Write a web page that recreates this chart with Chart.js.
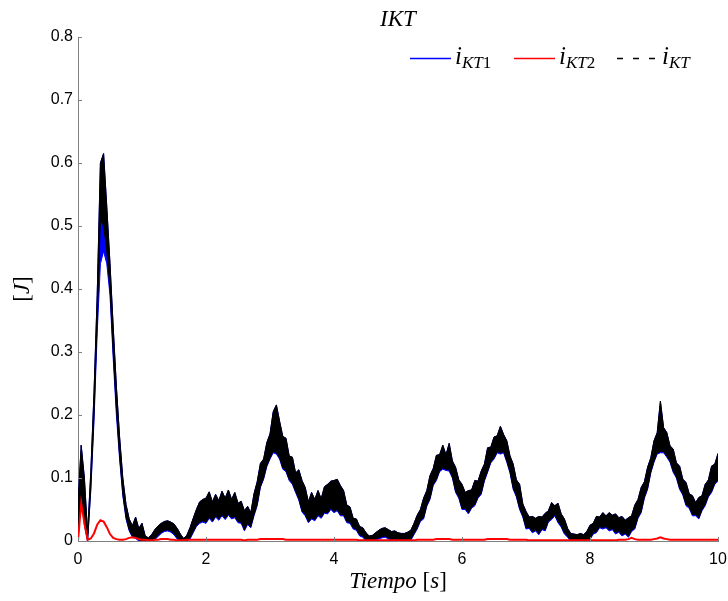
<!DOCTYPE html>
<html>
<head>
<meta charset="utf-8">
<script src="https://cdn.jsdelivr.net/npm/chart.js@4.4.1/dist/chart.umd.min.js"></script>
<style>
  html, body { margin: 0; padding: 0; background: #fff; }
  #caja { width: 728px; height: 601px; }
</style>
</head>
<body>
<div id="caja"><canvas id="grafica-ikt" width="728" height="601"></canvas></div>
<script>
// Muestras cada 0.05 s, de 0 a 10 s
const tiempo = Array.from({ length: 201 }, (_, i) => +(i * 0.05).toFixed(2));

// i_KT: borde superior de la banda de ruido
const iktSup = [
  0.06, 0.152, 0.1, 0.012, 0.11, 0.235, 0.39, 0.6, 0.615, 0.53,
  0.44, 0.34, 0.245, 0.165, 0.1, 0.058, 0.035, 0.024, 0.038, 0.02,
  0.028, 0.008, 0.005, 0.01, 0.018, 0.024, 0.028, 0.031, 0.032, 0.03,
  0.027, 0.02, 0.011, 0.004, 0.009, 0.021, 0.036, 0.05, 0.062, 0.066,
  0.068, 0.078, 0.062, 0.074, 0.064, 0.079, 0.068, 0.081, 0.066, 0.077,
  0.06, 0.063, 0.048, 0.055, 0.045, 0.075, 0.094, 0.123, 0.13, 0.156,
  0.17, 0.205, 0.216, 0.19, 0.166, 0.163, 0.135, 0.133, 0.108, 0.113,
  0.096, 0.085, 0.062, 0.077, 0.066, 0.08, 0.067, 0.086, 0.09, 0.095,
  0.096, 0.098, 0.088, 0.08, 0.057, 0.054, 0.036, 0.035, 0.023, 0.021,
  0.013, 0.008, 0.009, 0.013, 0.017, 0.02, 0.021, 0.018, 0.015, 0.016,
  0.013, 0.012, 0.012, 0.014, 0.017, 0.028, 0.041, 0.05, 0.068, 0.08,
  0.104, 0.115, 0.136, 0.137, 0.152, 0.137, 0.155, 0.127, 0.117, 0.097,
  0.09, 0.077, 0.08, 0.081, 0.096, 0.095, 0.111, 0.122, 0.148, 0.149,
  0.165, 0.167, 0.182, 0.169, 0.159, 0.135, 0.122, 0.097, 0.09, 0.059,
  0.047, 0.038, 0.039, 0.036, 0.039, 0.038, 0.044, 0.048, 0.061, 0.056,
  0.06, 0.043, 0.035, 0.02, 0.012, 0.011, 0.01, 0.012, 0.01, 0.015,
  0.025, 0.028, 0.039, 0.038, 0.045, 0.04, 0.045, 0.041, 0.043, 0.037,
  0.039, 0.033, 0.037, 0.04, 0.057, 0.066, 0.085, 0.094, 0.117, 0.132,
  0.159, 0.172, 0.222, 0.18, 0.172, 0.151, 0.146, 0.124, 0.119, 0.098,
  0.093, 0.075, 0.072, 0.061, 0.069, 0.072, 0.09, 0.097, 0.119, 0.122, 0.139
];

// i_KT: borde inferior de la banda
const iktInf = [
  0, 0.08, 0.03, 0, 0.085, 0.2, 0.35, 0.51, 0.5, 0.46,
  0.4, 0.3, 0.21, 0.135, 0.075, 0.038, 0.018, 0.008, 0.006, 0.002,
  0, 0, 0, 0, 0.004, 0.009, 0.014, 0.017, 0.018, 0.016,
  0.012, 0.005, 0, 0, 0, 0.005, 0.015, 0.025, 0.03, 0.032,
  0.03, 0.038, 0.032, 0.04, 0.035, 0.042, 0.036, 0.043, 0.037, 0.039,
  0.031, 0.03, 0.018, 0.028, 0.023, 0.042, 0.058, 0.087, 0.1, 0.12,
  0.132, 0.142, 0.14, 0.132, 0.116, 0.112, 0.098, 0.092, 0.079, 0.067,
  0.048, 0.042, 0.031, 0.037, 0.034, 0.042, 0.038, 0.046, 0.045, 0.052,
  0.047, 0.05, 0.042, 0.042, 0.031, 0.03, 0.021, 0.019, 0.01, 0.008,
  0.002, 0, 0, 0.003, 0.005, 0.007, 0.008, 0.005, 0, 0.004,
  0, 0, 0, 0.001, 0.003, 0.012, 0.021, 0.033, 0.037, 0.057,
  0.068, 0.09, 0.098, 0.112, 0.116, 0.114, 0.113, 0.102, 0.079, 0.07,
  0.052, 0.052, 0.045, 0.054, 0.058, 0.07, 0.076, 0.097, 0.111, 0.126,
  0.132, 0.142, 0.14, 0.142, 0.127, 0.11, 0.084, 0.072, 0.052, 0.04,
  0.021, 0.022, 0.015, 0.018, 0.012, 0.02, 0.018, 0.032, 0.036, 0.042,
  0.031, 0.024, 0.013, 0.008, 0, 0, 0, 0, 0, 0.002,
  0.004, 0.013, 0.015, 0.023, 0.021, 0.023, 0.018, 0.02, 0.013, 0.016,
  0.01, 0.013, 0.008, 0.017, 0.021, 0.038, 0.047, 0.07, 0.084, 0.11,
  0.127, 0.14, 0.142, 0.142, 0.135, 0.127, 0.111, 0.102, 0.084, 0.075,
  0.058, 0.054, 0.042, 0.042, 0.037, 0.05, 0.058, 0.072, 0.079, 0.092, 0.097
];

// i_KT1: borde inferior (el superior queda bajo i_KT)
const ikt1Inf = [
  0, 0.075, 0.025, 0, 0.08, 0.19, 0.33, 0.44, 0.46, 0.44,
  0.39, 0.29, 0.2, 0.13, 0.072, 0.035, 0.016, 0.006, 0.004, 0,
  0, 0, 0, 0, 0.002, 0.007, 0.012, 0.015, 0.016, 0.014,
  0.01, 0.003, 0, 0, 0, 0.003, 0.013, 0.023, 0.028, 0.03,
  0.028, 0.036, 0.03, 0.038, 0.033, 0.04, 0.034, 0.041, 0.035, 0.037,
  0.029, 0.028, 0.016, 0.026, 0.021, 0.04, 0.056, 0.085, 0.098, 0.118,
  0.13, 0.14, 0.138, 0.13, 0.114, 0.11, 0.096, 0.09, 0.077, 0.065,
  0.046, 0.04, 0.029, 0.035, 0.032, 0.04, 0.036, 0.044, 0.043, 0.05,
  0.045, 0.048, 0.04, 0.04, 0.029, 0.028, 0.019, 0.017, 0.008, 0.006,
  0, 0, 0, 0.001, 0.003, 0.005, 0.006, 0.003, 0, 0.002,
  0, 0, 0, 0, 0.001, 0.01, 0.019, 0.031, 0.035, 0.055,
  0.066, 0.088, 0.096, 0.11, 0.114, 0.112, 0.111, 0.1, 0.077, 0.068,
  0.05, 0.05, 0.043, 0.052, 0.056, 0.068, 0.074, 0.095, 0.109, 0.124,
  0.13, 0.14, 0.138, 0.14, 0.125, 0.108, 0.082, 0.07, 0.05, 0.038,
  0.019, 0.02, 0.013, 0.016, 0.01, 0.018, 0.016, 0.03, 0.034, 0.04,
  0.029, 0.022, 0.011, 0.006, 0, 0, 0, 0, 0, 0,
  0.002, 0.011, 0.013, 0.021, 0.019, 0.021, 0.016, 0.018, 0.011, 0.014,
  0.008, 0.011, 0.006, 0.015, 0.019, 0.036, 0.045, 0.068, 0.082, 0.108,
  0.125, 0.138, 0.14, 0.14, 0.133, 0.125, 0.109, 0.1, 0.082, 0.073,
  0.056, 0.052, 0.04, 0.04, 0.035, 0.048, 0.056, 0.07, 0.077, 0.09, 0.095
];

// i_KT2
const ikt2 = [
  0, 0.06, 0.028, 0.002, 0.004, 0.012, 0.026, 0.033, 0.031, 0.022,
  0.011, 0.005, 0.003, 0.002, 0.002, 0.003, 0.005, 0.006, 0.005, 0.003,
  0.002, 0.002, 0.001, 0.001, 0.002, 0.002, 0.003, 0.003, 0.003, 0.002,
  0.002, 0.001, 0.001, 0.001, 0.002, 0.002, 0.002, 0.002, 0.002, 0.002,
  0.002, 0.002, 0.002, 0.002, 0.002, 0.002, 0.002, 0.002, 0.002, 0.002,
  0.002, 0.002, 0.001, 0.002, 0.002, 0.002, 0.002, 0.003, 0.003, 0.003,
  0.003, 0.003, 0.003, 0.003, 0.003, 0.002, 0.002, 0.002, 0.002, 0.002,
  0.002, 0.002, 0.002, 0.002, 0.002, 0.002, 0.002, 0.002, 0.002, 0.002,
  0.002, 0.002, 0.002, 0.002, 0.002, 0.002, 0.002, 0.002, 0.001, 0.001,
  0.001, 0.001, 0.001, 0.001, 0.001, 0.001, 0.001, 0.001, 0.001, 0.001,
  0.001, 0.001, 0.001, 0.001, 0.001, 0.001, 0.002, 0.002, 0.002, 0.002,
  0.002, 0.002, 0.003, 0.003, 0.003, 0.003, 0.003, 0.002, 0.002, 0.002,
  0.002, 0.002, 0.002, 0.002, 0.002, 0.002, 0.002, 0.002, 0.003, 0.003,
  0.003, 0.003, 0.003, 0.003, 0.003, 0.002, 0.002, 0.002, 0.002, 0.002,
  0.002, 0.001, 0.001, 0.001, 0.001, 0.001, 0.001, 0.001, 0.001, 0.001,
  0.001, 0.001, 0.001, 0.001, 0.001, 0.001, 0.001, 0.001, 0.001, 0.001,
  0.001, 0.001, 0.001, 0.001, 0.001, 0.001, 0.001, 0.001, 0.001, 0.002,
  0.002, 0.002, 0.003, 0.005, 0.003, 0.002, 0.002, 0.002, 0.002, 0.002,
  0.003, 0.004, 0.006, 0.004, 0.003, 0.002, 0.002, 0.002, 0.002, 0.002,
  0.002, 0.002, 0.002, 0.002, 0.002, 0.002, 0.002, 0.002, 0.002, 0.002, 0.002
];

const ticksX = [0, 2, 4, 6, 8, 10];
const ticksY = [0, 0.1, 0.2, 0.3, 0.4, 0.5, 0.6, 0.7, 0.8];

const SERIF = '"Liberation Serif", "DejaVu Serif", serif';
const it = s => `italic ${s}px ${SERIF}`;
const rm = s => `${s}px ${SERIF}`;

const leyenda = [
  { color: '#0000ff', dash: [], sub: 'KT', num: '1' },
  { color: '#ff0000', dash: [], sub: 'KT', num: '2' },
  { color: '#000000', dash: [6, 10], sub: 'KT', num: '' }
];
const inicioLeyenda = [410, 514, 617];

const pares = arr => arr.map((v, i) => ({ x: tiempo[i], y: v }));

function anchoTramos(ctx, tramos) {
  let w = 0;
  tramos.forEach(t => { ctx.font = t.f; w += ctx.measureText(t.t).width; });
  return w;
}

function pintaTramos(ctx, tramos, x, y) {
  tramos.forEach(t => {
    ctx.font = t.f;
    ctx.fillText(t.t, x, y + (t.dy || 0));
    x += ctx.measureText(t.t).width;
  });
  return x;
}

// Marcas hacia dentro, títulos y leyenda con subíndices
const adornos = {
  id: 'adornos',
  afterDraw(chart) {
    const { ctx, chartArea: a, scales: { x, y } } = chart;
    ctx.save();

    ctx.strokeStyle = '#808080';
    ctx.lineWidth = 1;
    ctx.beginPath();
    ticksY.forEach(v => {
      const py = Math.round(y.getPixelForValue(v)) + 0.5;
      ctx.moveTo(a.left, py);
      ctx.lineTo(a.left + 4, py);
    });
    ticksX.forEach(v => {
      const px = Math.round(x.getPixelForValue(v)) + 0.5;
      ctx.moveTo(px, a.bottom);
      ctx.lineTo(px, a.bottom - 4);
    });
    ctx.stroke();

    ctx.fillStyle = '#000';
    ctx.textBaseline = 'alphabetic';
    const cx = (a.left + a.right) / 2;

    const titulo = [{ t: 'IKT', f: it(23) }];
    pintaTramos(ctx, titulo, cx - anchoTramos(ctx, titulo) / 2, 26);

    const etiquetaX = [
      { t: 'Tiempo', f: it(23) }, { t: ' [', f: rm(23) },
      { t: 's', f: it(23) }, { t: ']', f: rm(23) }
    ];
    pintaTramos(ctx, etiquetaX, cx - anchoTramos(ctx, etiquetaX) / 2, 588);

    const etiquetaY = [{ t: '[', f: rm(23) }, { t: 'J', f: it(23) }, { t: ']', f: rm(23) }];
    ctx.save();
    ctx.translate(29, (a.top + a.bottom) / 2);
    ctx.rotate(-Math.PI / 2);
    pintaTramos(ctx, etiquetaY, -anchoTramos(ctx, etiquetaY) / 2, 0);
    ctx.restore();

    leyenda.forEach((s, k) => {
      const x0 = inicioLeyenda[k];
      ctx.strokeStyle = s.color;
      ctx.lineWidth = 1.5;
      ctx.setLineDash(s.dash);
      ctx.beginPath();
      ctx.moveTo(x0, 58.5);
      ctx.lineTo(x0 + 41, 58.5);
      ctx.stroke();
      ctx.setLineDash([]);
      pintaTramos(ctx, [
        { t: 'i', f: it(25) },
        { t: s.sub, f: it(17), dy: 4 },
        { t: s.num, f: rm(17), dy: 4 }
      ], x0 + 45, 64);
    });

    ctx.restore();
  }
};

const linea = (data, color, ancho, extra) => Object.assign({
  data: pares(data),
  borderColor: color,
  backgroundColor: color,
  borderWidth: ancho,
  pointRadius: 0,
  tension: 0,
  fill: false
}, extra || {});

new Chart(document.getElementById('grafica-ikt'), {
  type: 'line',
  data: {
    datasets: [
      linea(ikt2, '#ff0000', 2),
      linea(iktSup, '#000000', 1),
      linea(iktInf, '#000000', 1, { fill: '-1' }),
      linea(iktSup, '#0000ff', 1),
      linea(ikt1Inf, '#0000ff', 1, { fill: '-1' })
    ]
  },
  plugins: [adornos],
  options: {
    responsive: false,
    devicePixelRatio: 1,
    animation: false,
    layout: { autoPadding: false, padding: { top: 37, right: 10, bottom: 0, left: 0 } },
    plugins: {
      legend: { display: false },
      tooltip: { enabled: false }
    },
    scales: {
      x: {
        type: 'linear',
        min: 0,
        max: 10,
        afterFit: s => {
          s.height = 60;
          s.paddingLeft = 0;
          s.paddingRight = 0;
        },
        afterBuildTicks: s => { s.ticks = ticksX.map(v => ({ value: v })); },
        grid: { drawOnChartArea: false, drawTicks: false },
        border: { color: '#808080', width: 1 },
        ticks: {
          padding: 9,
          maxRotation: 0,
          color: '#000',
          font: { family: '"Liberation Sans", Arial, sans-serif', size: 16 }
        }
      },
      y: {
        min: 0,
        max: 0.8,
        afterFit: s => {
          s.width = 78;
          s.paddingTop = 0;
          s.paddingBottom = 0;
        },
        afterBuildTicks: s => { s.ticks = ticksY.map(v => ({ value: v })); },
        grid: { drawOnChartArea: false, drawTicks: false },
        border: { color: '#808080', width: 1 },
        ticks: {
          padding: 5,
          color: '#000',
          font: { family: '"Liberation Sans", Arial, sans-serif', size: 16 },
          callback: v => (v === 0 ? '0' : v.toFixed(1))
        }
      }
    }
  }
});
</script>
</body>
</html>
